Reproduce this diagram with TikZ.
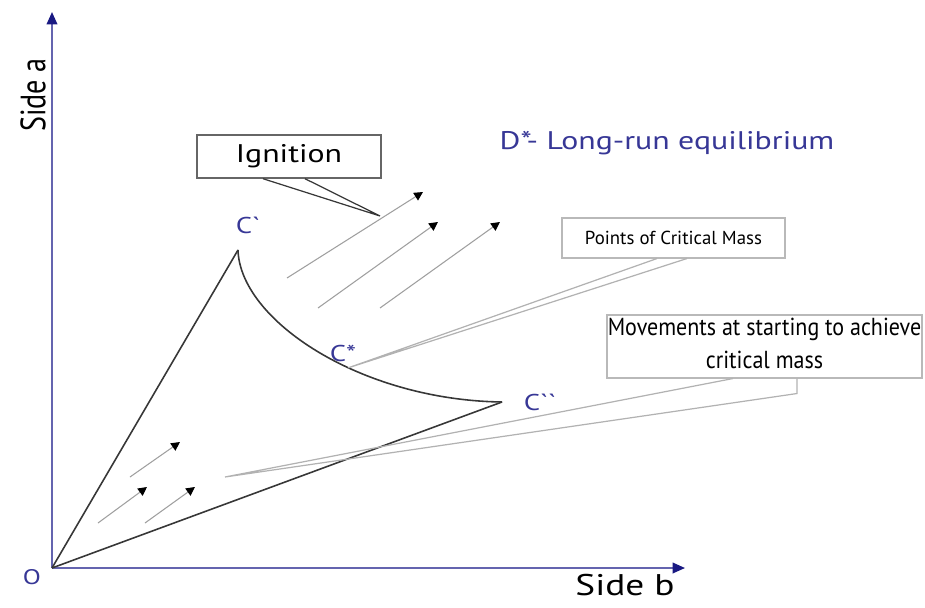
\documentclass[tikz,border=0pt]{standalone}
\usepackage{fontspec}
\usepackage{graphicx}
\setmainfont{PT Sans}
\usetikzlibrary{arrows.meta}
\definecolor{axisblue}{RGB}{100,100,175}
\definecolor{tipblue}{RGB}{25,25,130}
\definecolor{labelblue}{RGB}{55,55,150}
\definecolor{curvegray}{RGB}{55,55,55}
\newcommand{\wide}[1]{\scalebox{1.25}[1]{#1}}
\tikzset{
  axis/.style={line width=1pt, axisblue, -{Triangle[length=7pt,width=6pt,color=tipblue]}},
  edge/.style={line width=0.9pt, curvegray},
  move/.style={line width=0.6pt, gray!75, -{Triangle[length=5pt,width=5pt,color=black]}},
  ptlabel/.style={labelblue, font=\fontsize{13}{15}\selectfont},
  calloutbox/.style={draw=gray!55, line width=0.6pt, fill=white, inner sep=0pt},
  pointer/.style={gray!60, line width=0.7pt},
}
\begin{document}
\begin{tikzpicture}
\useasboundingbox (0,0) rectangle (18.5,12.14);

% Axes
\coordinate (O) at (1.04,0.78);
\draw[axis] (O) -- (1.04,11.9);
\draw[axis] (O) -- (13.7,0.78);
\node[labelblue, font=\fontsize{12}{14}\selectfont] (olabel) at (0.64,0.6) {\wide{O}};
\node[rotate=90, font=\fontsize{16}{18}\selectfont] (sidea) at (0.66,10.24) {\scalebox{1}[1.25]{Side a}};
\node[font=\fontsize{17}{19}\selectfont] (sideb) at (12.5,0.43) {\wide{Side b}};

% Cone and critical mass curve
\coordinate (C1) at (4.76,7.14);
\coordinate (C3) at (10.04,4.1);
\draw[edge] (O) -- (C1);
\draw[edge] (O) -- (C3);
\draw[edge] (C1) .. controls (4.8,5.74) and (7.2,4.14) .. (C3)
    coordinate[pos=0.6] (C2);
\node[ptlabel] at (4.96,7.64) {\wide{C\textasciigrave}};
\node[ptlabel] at (6.86,5.08) {\wide{C*}};
\node[ptlabel] at (10.8,4.1) {\wide{C\textasciigrave\textasciigrave}};

% Long-run equilibrium
\node[labelblue, font=\fontsize{14.5}{17}\selectfont] (dstar) at (13.34,9.28) {\wide{D*- Long-run equilibrium}};

% Movements after ignition
\draw[move] (5.74,6.58) -- (8.46,8.3);
\draw[move] (6.36,5.98) -- (8.76,7.7);
\draw[move] (7.6,5.98) -- (10.0,7.7);

% Movements at starting
\draw[move] (2.6,2.6) -- (3.6,3.3);
\draw[move] (1.96,1.68) -- (2.94,2.4);
\draw[move] (2.9,1.68) -- (3.9,2.4);

% Callouts
\coordinate (igtip) at (7.6,7.82);
\coordinate (mvtip) at (4.5,2.6);
\node[calloutbox, draw=gray!80!black, line width=0.8pt, minimum width=3.68cm, minimum height=0.86cm,
    font=\fontsize{14.5}{16}\selectfont] (ignition) at (5.78,9.01) {\wide{Ignition}};
\draw[curvegray, line width=0.7pt] ([xshift=-0.52cm]ignition.south) -- (igtip)
    -- ([xshift=0.32cm]ignition.south);

\node[calloutbox, minimum width=4.46cm, minimum height=0.8cm,
    font=\fontsize{10.7}{12}\selectfont] (critical) at (13.47,7.38)
    {Points of Critical Mass};
\draw[pointer] ([xshift=-0.33cm]critical.south) -- (C2)
    -- ([xshift=0.27cm]critical.south);

\node[calloutbox, minimum width=6.3cm, minimum height=1.26cm,
    font=\fontsize{14}{16}\selectfont] (starting) at (15.29,5.21)
    {\scalebox{0.895}[1]{\begin{tabular}{@{}c@{}}Movements at starting to achieve\\[2.7pt] critical mass\end{tabular}}};
\draw[pointer] ([xshift=-0.63cm]starting.south) -- (mvtip)
    -- ([xshift=0.65cm,yshift=-0.3cm]starting.south) -- ([xshift=0.65cm]starting.south);
\end{tikzpicture}
\end{document}
